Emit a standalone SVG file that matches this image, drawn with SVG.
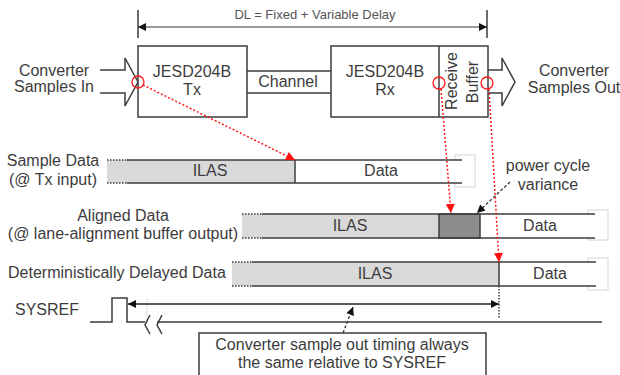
<svg xmlns="http://www.w3.org/2000/svg" width="620" height="375" viewBox="0 0 620 375">
<defs>
<marker id="blk" viewBox="0 0 10 10" refX="10" refY="5" markerWidth="12" markerHeight="8" markerUnits="userSpaceOnUse" orient="auto-start-reverse"><path d="M0,0 L10,5 L0,10 Z" fill="#111"/></marker>
<marker id="red" viewBox="0 0 10 10" refX="10" refY="5" markerWidth="13" markerHeight="9" markerUnits="userSpaceOnUse" orient="auto"><path d="M0,0 L10,5 L0,10 Z" fill="#ff1010"/></marker>
</defs>
<style>
text{font-family:"Liberation Sans",Arial,sans-serif;font-size:16px;fill:#3c3c3c}
.sm{font-size:13px;fill:#555}
.mid{text-anchor:middle}
.box{fill:#fff;stroke:#3c3c3c;stroke-width:1.5}
.ln{fill:none;stroke:#3c3c3c;stroke-width:1.5}
.dot{fill:none;stroke:#3c3c3c;stroke-width:1.5;stroke-dasharray:1.5 1.5}
.gray{fill:#d9d9d9;stroke:none}
.dark{fill:#8c8c8c;stroke:#3c3c3c;stroke-width:1.5}
.cap{fill:#fff;stroke:#d4d4d4;stroke-width:1}
.rc{fill:none;stroke:#ff1a1a;stroke-width:1.3}
.rd{fill:none;stroke:#ff1a1a;stroke-width:1.5;stroke-dasharray:2 2}
.kd{fill:none;stroke:#333;stroke-width:1.3;stroke-dasharray:3 2}
</style>
<rect width="620" height="375" fill="#fff"/>

<g id="dl">
<line class="ln" x1="138" y1="10" x2="138" y2="38" stroke-width="1"/>
<line class="ln" x1="487" y1="10" x2="487" y2="38" stroke-width="1"/>
<line x1="138" y1="27" x2="487" y2="27" stroke="#333" stroke-width="1" marker-start="url(#blk)" marker-end="url(#blk)"/>
<text class="sm mid" x="315" y="19">DL = Fixed + Variable Delay</text>
</g>

<g id="input">
<polyline class="ln" stroke-width="1.2" points="100,70 125,70 125,58 138,82 125,106 125,93 100,93"/>
<text class="mid" x="54" y="76">Converter</text>
<text class="mid" x="54" y="92">Samples In</text>
</g>

<g id="tx">
<rect class="box" x="138" y="46" width="109" height="71"/>
<text class="mid" x="192" y="77">JESD204B</text>
<text class="mid" x="192" y="95">Tx</text>
</g>

<g id="channel">
<line class="ln" x1="247" y1="71" x2="331" y2="71"/>
<line class="ln" x1="247" y1="93" x2="331" y2="93"/>
<text class="mid" x="288" y="87">Channel</text>
</g>

<g id="rx">
<rect class="box" x="331" y="46" width="157" height="71"/>
<line class="ln" x1="439" y1="46" x2="439" y2="117"/>
<text class="mid" x="385" y="77">JESD204B</text>
<text class="mid" x="385" y="95">Rx</text>
<text class="mid" transform="translate(457,81) rotate(-90)">Receive</text>
<text class="mid" transform="translate(478,82) rotate(-90)">Buffer</text>
</g>

<g id="output">
<polyline class="ln" stroke-width="1.2" points="488,70 502,70 502,58 515,82 502,106 502,93 488,93"/>
<text class="mid" x="574" y="76">Converter</text>
<text class="mid" x="574" y="93">Samples Out</text>
</g>

<g id="sample">
<text class="mid" x="53" y="166">Sample Data</text>
<text class="mid" x="53" y="185">(@ Tx input)</text>
<rect class="cap" x="455" y="155" width="20" height="32"/>
<rect x="107" y="160" width="188" height="23" class="gray"/>
<rect x="295" y="160" width="167" height="23" fill="#fff"/>
<line class="dot" x1="107" y1="160" x2="127" y2="160"/>
<line class="dot" x1="107" y1="183" x2="127" y2="183"/>
<line class="ln" x1="127" y1="160" x2="462" y2="160"/>
<line class="ln" x1="127" y1="183" x2="462" y2="183"/>
<line class="ln" x1="295" y1="160" x2="295" y2="183"/>
<text class="mid" x="210" y="176">ILAS</text>
<text class="mid" x="381" y="176">Data</text>
</g>

<g id="aligned">
<text class="mid" x="123" y="221">Aligned Data</text>
<text class="mid" x="123" y="239">(@ lane-alignment buffer output)</text>
<rect class="cap" x="588" y="210" width="20" height="30"/>
<rect x="242" y="214" width="197" height="24" class="gray"/>
<rect x="480" y="214" width="115" height="24" fill="#fff"/>
<rect x="439" y="214" width="41" height="24" class="dark"/>
<line class="dot" x1="242" y1="214" x2="262" y2="214"/>
<line class="dot" x1="242" y1="238" x2="262" y2="238"/>
<line class="ln" x1="262" y1="214" x2="595" y2="214"/>
<line class="ln" x1="262" y1="238" x2="595" y2="238"/>
<text class="mid" x="350" y="231">ILAS</text>
<text class="mid" x="540" y="231">Data</text>
</g>

<g id="variance">
<text class="mid" x="548" y="171">power cycle</text>
<text class="mid" x="548" y="190">variance</text>
<line class="kd" x1="510" y1="182" x2="477" y2="213" marker-end="url(#blk)"/>
</g>

<g id="delayed">
<text x="8" y="278">Deterministically Delayed Data</text>
<rect class="cap" x="588" y="258" width="20" height="32"/>
<rect x="232" y="262" width="267" height="24" class="gray"/>
<rect x="499" y="262" width="97" height="24" fill="#fff"/>
<line class="dot" x1="232" y1="262" x2="252" y2="262"/>
<line class="dot" x1="232" y1="286" x2="252" y2="286"/>
<line class="ln" x1="252" y1="262" x2="596" y2="262"/>
<line class="ln" x1="252" y1="286" x2="596" y2="286"/>
<line class="ln" x1="499" y1="262" x2="499" y2="286"/>
<text class="mid" x="375" y="279">ILAS</text>
<text class="mid" x="550" y="279">Data</text>
</g>

<g id="sysref">
<text x="15" y="315">SYSREF</text>
<polyline class="ln" points="90,322 112,322 112,298 127,298 127,322 145,322"/>
<line x1="147" y1="298" x2="147" y2="320" stroke="#ddd" stroke-width="1"/>
<polyline class="ln" stroke-width="1.2" points="150,315 145,325 150,334"/>
<polyline class="ln" stroke-width="1.2" points="162,315 157,325 162,334"/>
<line class="ln" x1="157" y1="322" x2="602" y2="322"/>
<line x1="128" y1="304" x2="499" y2="304" stroke="#222" stroke-width="1.3" marker-start="url(#blk)" marker-end="url(#blk)"/>
<line class="dot" x1="499" y1="286" x2="499" y2="318" stroke-width="1.2"/>
</g>

<g id="callout">
<rect class="box" x="199" y="333" width="287" height="60" stroke-width="1.2"/>
<text class="mid" x="342" y="350">Converter sample out timing always</text>
<text class="mid" x="342" y="368">the same relative to SYSREF</text>
<line class="kd" x1="343" y1="333" x2="353" y2="307" marker-end="url(#blk)"/>
</g>

<g id="connectors">
<circle class="rc" cx="138" cy="82" r="6"/>
<circle class="rc" cx="439" cy="83" r="6"/>
<circle class="rc" cx="487" cy="83" r="6"/>
<line class="rd" x1="143" y1="85" x2="295" y2="160" marker-end="url(#red)"/>
<line class="rd" x1="441" y1="89" x2="451" y2="213" marker-end="url(#red)"/>
<line class="rd" x1="489" y1="89" x2="499" y2="262" marker-end="url(#red)"/>
</g>
</svg>
